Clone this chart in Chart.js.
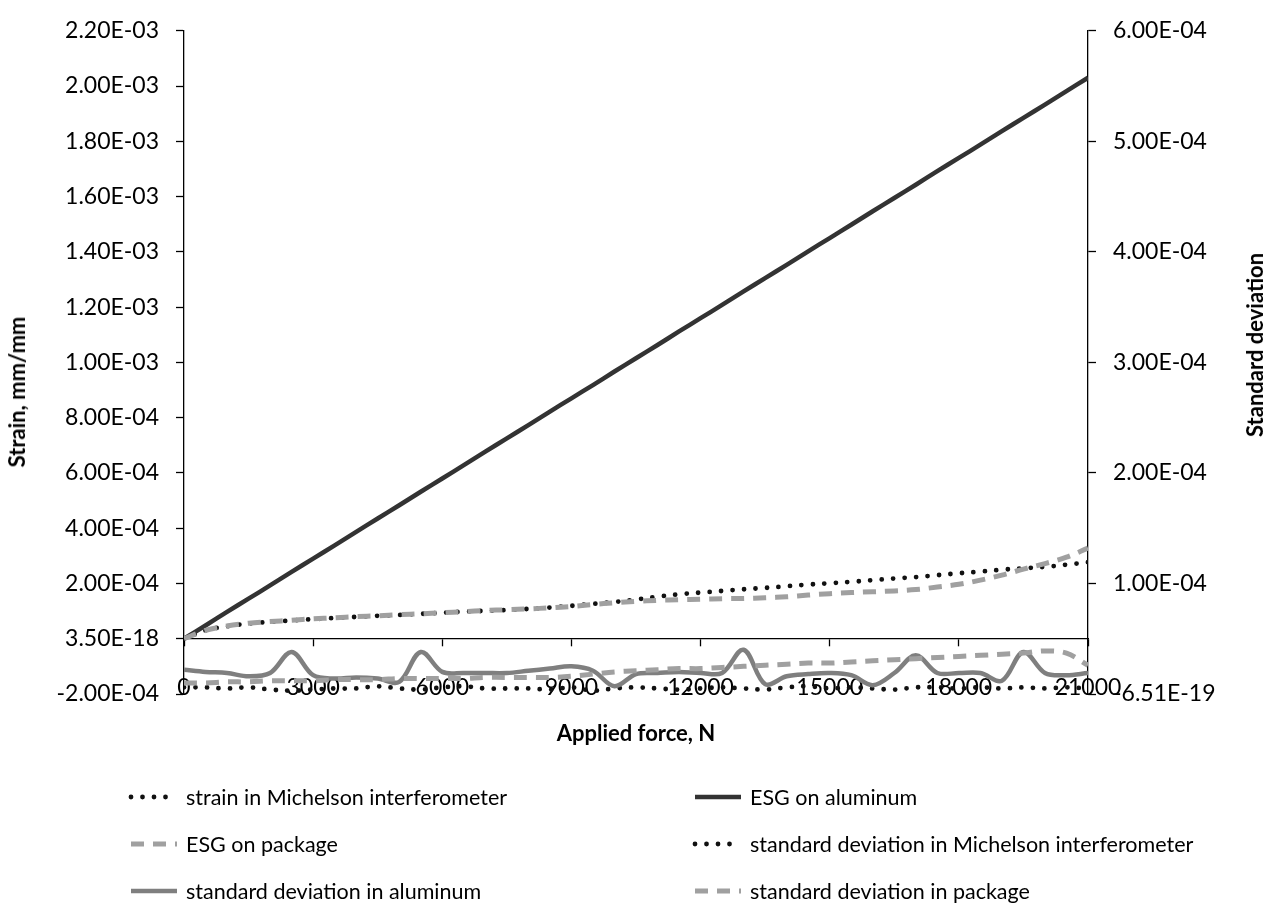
<!DOCTYPE html>
<html>
<head>
<meta charset="utf-8">
<script src="https://cdn.jsdelivr.net/npm/chart.js@4.4.0/dist/chart.umd.min.js"></script>
<style>
  html, body { margin: 0; padding: 0; background: #fff; }
  #wrap { position: relative; width: 1272px; height: 905px; font-family: Lato, "Open Sans", sans-serif; color: #000; overflow: hidden; }
  #c { position: absolute; left: 0; top: 0; }
  .ttl { position: absolute; font-weight: bold; font-size: 22px; white-space: nowrap; line-height: 26px; }
  .vt { transform: translate(-50%, -50%) rotate(-90deg); }
  .li { position: absolute; display: flex; align-items: center; font-size: 21.5px; white-space: nowrap; line-height: 26px; }
  .li svg { margin-right: 6px; }
</style>
</head>
<body>
<div id="wrap">
  <canvas id="c" width="1272" height="905"></canvas>
  <div id="ytitle" class="ttl vt" style="left:17px; top:392px;">Strain, mm/mm</div>
  <div id="y2title" class="ttl vt" style="left:1255px; top:345px;">Standard deviation</div>
  <div id="xtitle" class="ttl" style="left:184px; width:904px; top:720px; text-align:center;">Applied force, N</div>
  <div id="legend"></div>
</div>
<script>
// ---- data ----
const force = [0,500,1000,1500,2000,2500,3000,3500,4000,4500,5000,5500,6000,6500,7000,7500,8000,8500,9000,9500,10000,10500,11000,11500,12000,12500,13000,13500,14000,14500,15000,15500,16000,16500,17000,17500,18000,18500,19000,19500,20000,20500,21000];

const strainMichelson = [0,3.0e-5,4.5e-5,5.5e-5,6.1e-5,6.6e-5,7.1e-5,7.5e-5,7.9e-5,8.3e-5,8.6e-5,9.0e-5,9.4e-5,9.8e-5,1.01e-4,1.04e-4,1.08e-4,1.13e-4,1.19e-4,1.26e-4,1.33e-4,1.42e-4,1.52e-4,1.61e-4,1.67e-4,1.73e-4,1.79e-4,1.84e-4,1.90e-4,1.96e-4,2.01e-4,2.06e-4,2.12e-4,2.18e-4,2.23e-4,2.30e-4,2.37e-4,2.43e-4,2.50e-4,2.55e-4,2.60e-4,2.68e-4,2.77e-4];

const esgAluminum = [0,4.8e-5,9.7e-5,1.45e-4,1.93e-4,2.42e-4,2.90e-4,3.38e-4,3.87e-4,4.35e-4,4.83e-4,5.32e-4,5.80e-4,6.28e-4,6.77e-4,7.25e-4,7.73e-4,8.22e-4,8.70e-4,9.18e-4,9.67e-4,1.015e-3,1.063e-3,1.112e-3,1.160e-3,1.208e-3,1.257e-3,1.305e-3,1.353e-3,1.402e-3,1.450e-3,1.498e-3,1.547e-3,1.595e-3,1.643e-3,1.692e-3,1.740e-3,1.788e-3,1.837e-3,1.885e-3,1.933e-3,1.982e-3,2.030e-3];

const esgPackage = [0,3.0e-5,4.6e-5,5.6e-5,6.2e-5,6.7e-5,7.2e-5,7.6e-5,8.0e-5,8.3e-5,8.7e-5,9.0e-5,9.4e-5,9.8e-5,1.02e-4,1.05e-4,1.08e-4,1.12e-4,1.17e-4,1.24e-4,1.30e-4,1.35e-4,1.39e-4,1.41e-4,1.43e-4,1.45e-4,1.46e-4,1.48e-4,1.52e-4,1.58e-4,1.63e-4,1.67e-4,1.70e-4,1.73e-4,1.78e-4,1.87e-4,1.97e-4,2.12e-4,2.30e-4,2.52e-4,2.72e-4,2.95e-4,3.28e-4];

const stdMichelson = [6e-6,6e-6,5e-6,6e-6,4e-6,3e-6,4e-6,5e-6,5e-6,7e-6,5e-6,4e-6,6e-6,7e-6,5e-6,5e-6,5e-6,4e-6,6e-6,3e-6,5e-6,6e-6,5e-6,4e-6,5e-6,6e-6,5e-6,4e-6,6e-6,7e-6,5e-6,6e-6,5e-6,4e-6,6e-6,6e-6,5e-6,6e-6,5e-6,6e-6,5e-6,6e-6,5e-6];

const stdAluminum = [2.2e-5,2.0e-5,1.9e-5,1.6e-5,1.9e-5,3.8e-5,1.7e-5,1.4e-5,1.5e-5,1.4e-5,1.1e-5,3.8e-5,2.0e-5,1.9e-5,1.9e-5,1.9e-5,2.1e-5,2.3e-5,2.5e-5,2.1e-5,0.7e-5,1.8e-5,1.9e-5,2.0e-5,1.9e-5,1.9e-5,4.0e-5,0.9e-5,1.6e-5,1.8e-5,1.9e-5,1.7e-5,0.8e-5,1.9e-5,3.5e-5,1.9e-5,1.9e-5,1.9e-5,1.2e-5,3.8e-5,1.9e-5,1.7e-5,1.9e-5];

const stdPackage = [1.0e-5,1.0e-5,1.1e-5,1.1e-5,1.2e-5,1.2e-5,1.2e-5,1.3e-5,1.3e-5,1.3e-5,1.4e-5,1.4e-5,1.4e-5,1.4e-5,1.5e-5,1.5e-5,1.5e-5,1.5e-5,1.6e-5,1.8e-5,2.0e-5,2.1e-5,2.2e-5,2.3e-5,2.3e-5,2.4e-5,2.5e-5,2.6e-5,2.7e-5,2.8e-5,2.8e-5,2.9e-5,3.0e-5,3.1e-5,3.2e-5,3.3e-5,3.4e-5,3.5e-5,3.6e-5,3.7e-5,3.9e-5,3.7e-5,2.6e-5];

const seriesNames = ['strain in Michelson interferometer','ESG on aluminum','ESG on package','standard deviation in Michelson interferometer','standard deviation in aluminum','standard deviation in package'];

const xTickLabels = ['0','3000','6000','9000','12000','15000','18000','21000'];
const leftTickLabels = ['-2.00E-04','3.50E-18','2.00E-04','4.00E-04','6.00E-04','8.00E-04','1.00E-03','1.20E-03','1.40E-03','1.60E-03','1.80E-03','2.00E-03','2.20E-03'];
const rightTickLabels = ['-6.51E-19','1.00E-04','2.00E-04','3.00E-04','4.00E-04','5.00E-04','6.00E-04'];

// ---- chart ----
const pts = arr => force.map((f, i) => ({ x: f, y: arr[i] }));
const FONT = { family: 'Lato', size: 23 };

const dotted = { borderColor: '#111', borderWidth: 4.8, borderDash: [0, 11.5], borderCapStyle: 'round' };
const dashed = { borderColor: '#a0a0a0', borderWidth: 5, borderDash: [13, 9], borderCapStyle: 'butt' };

const styles = [
  Object.assign({ yAxisID: 'y' }, dotted),
  { yAxisID: 'y', borderColor: '#333333', borderWidth: 4.5 },
  Object.assign({ yAxisID: 'y' }, dashed),
  Object.assign({ yAxisID: 'y2' }, dotted),
  { yAxisID: 'y2', borderColor: '#7f7f7f', borderWidth: 4.5 },
  Object.assign({ yAxisID: 'y2' }, dashed)
];
const seriesData = [strainMichelson, esgAluminum, esgPackage, stdMichelson, stdAluminum, stdPackage];

const datasets = seriesData.map((arr, i) => Object.assign({
  label: seriesNames[i],
  data: pts(arr),
  pointRadius: 0,
  pointHoverRadius: 0,
  fill: false,
  tension: 0.35,
  order: 6 - i
}, styles[i]));

const chart = new Chart(document.getElementById('c'), {
  type: 'line',
  data: { datasets },
  options: {
    responsive: false,
    animation: false,
    devicePixelRatio: 1,
    layout: { padding: { top: 16, bottom: 211, left: 0, right: 0 } },
    plugins: { legend: { display: false }, tooltip: { enabled: false } },
    scales: {
      x: {
        type: 'linear',
        position: { y: 0 },
        min: 0, max: 21000,
        ticks: { stepSize: 3000, padding: 28, font: FONT, color: '#000', maxRotation: 0,
                 callback: (v, i) => xTickLabels[i] },
        grid: { drawOnChartArea: false, drawTicks: true, tickLength: 7, color: '#000', tickWidth: 1.3 },
        border: { display: true, color: '#000', width: 1.3 },
        afterFit: s => { s.height = 0; }
      },
      y: {
        position: 'left',
        min: -2e-4, max: 2.2e-3,
        ticks: { stepSize: 2e-4, padding: 17, font: FONT, color: '#000',
                 callback: (v, i) => leftTickLabels[i] },
        grid: { drawOnChartArea: false, drawTicks: true, tickLength: 8, color: '#000', tickWidth: 1.3 },
        border: { display: true, color: '#000', width: 1.3 },
        afterFit: s => { s.width = 184; }
      },
      y2: {
        position: 'right',
        min: 0, max: 6e-4,
        ticks: { stepSize: 1e-4, padding: 17, font: FONT, color: '#000',
                 callback: (v, i) => rightTickLabels[i] },
        grid: { drawOnChartArea: false, drawTicks: true, tickLength: 8, color: '#000', tickWidth: 1.3 },
        border: { display: true, color: '#000', width: 1.3 },
        afterFit: s => { s.width = 184; }
      }
    }
  }
});

// ---- HTML legend (2 columns, row-major) built from the datasets ----
const legend = document.getElementById('legend');
const colX = [128, 692];
const rowY = [797, 844, 891];
chart.data.datasets.forEach((ds, i) => {
  const item = document.createElement('div');
  item.className = 'li';
  item.style.left = colX[i % 2] + 'px';
  item.style.top = (rowY[Math.floor(i / 2)] - 13) + 'px';
  const dash = (ds.borderDash || []).join(' ');
  const svg = '<svg width="52" height="12"><line x1="3" y1="6" x2="49" y2="6" stroke="' + ds.borderColor +
    '" stroke-width="' + ds.borderWidth + '" stroke-linecap="' + (ds.borderCapStyle || 'butt') + '"' +
    (dash ? ' stroke-dasharray="' + dash + '"' : '') + '/></svg>';
  item.innerHTML = svg + '<span>' + ds.label + '</span>';
  legend.appendChild(item);
});
</script>
</body>
</html>
